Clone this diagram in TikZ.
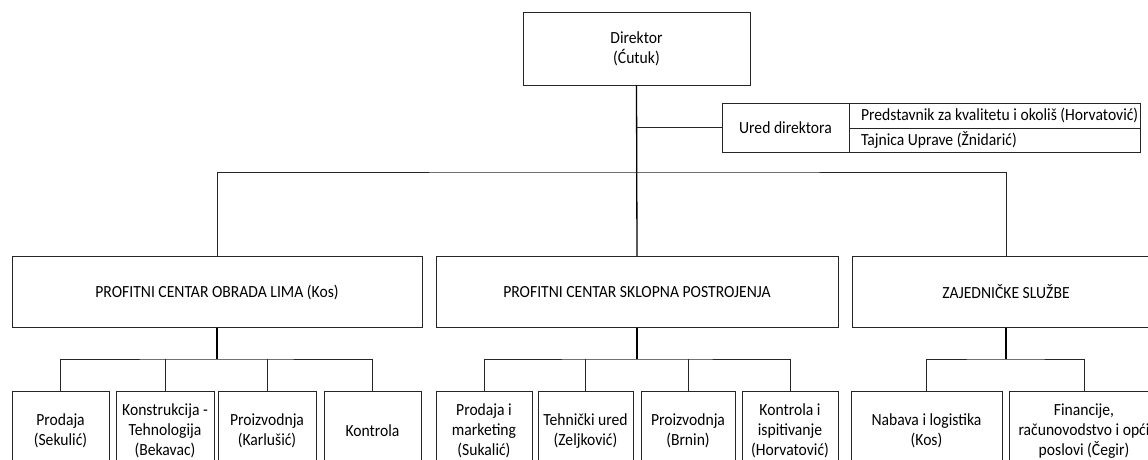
\documentclass[tikz,border=0pt]{standalone}
\usepackage{fontspec}
\setmainfont{Carlito}[FakeStretch=0.92]
\begin{document}
\begin{tikzpicture}[x=1pt,y=-1pt,
  box/.style={draw=black!85, line width=0.8pt, align=center, inner sep=0pt, font=\fontsize{17}{20}\selectfont},
  rowbox/.style={box, minimum width=291pt},
  conn/.style={draw=black!85, line width=0.8pt},
  trunk/.style={draw=black, line width=1.3pt}]
\useasboundingbox (0,0) rectangle (1148,459);
\fill[white] (0,0) rectangle (1148,459);
\clip (0,0) rectangle (1148,459);
% top
\node[box, minimum width=227pt, minimum height=73pt] (dir) at (636.5,48.5) {Direktor\\(Ćutuk)};
\node[box, minimum width=127pt, minimum height=49pt] (ured) at (785.5,127.5) {Ured direktora};
\node[rowbox, minimum height=25pt] (pred) at (994.5,115.5) {\makebox[291pt][l]{\hspace{12pt}Predstavnik za kvalitetu i okoliš (Horvatović)}};
\node[rowbox, minimum height=24pt] (taj) at (994.5,140) {\makebox[291pt][l]{\hspace{12pt}Tajnica Uprave (Žnidarić)}};
% level 1
\node[box, minimum width=410pt, minimum height=71pt] (pc1) at (217,292) {PROFITNI CENTAR OBRADA LIMA (Kos)};
\node[box, minimum width=402pt, minimum height=71pt] (pc2) at (637,292) {PROFITNI CENTAR SKLOPNA POSTROJENJA};
\node[box, minimum width=308pt, minimum height=71pt] (pc3) at (1006,292) {ZAJEDNIČKE SLUŽBE};
% level 2
\node[box, minimum width=97pt, minimum height=80pt] (a1) at (60.5,431) {Prodaja\\(Sekulić)};
\node[box, minimum width=98pt, minimum height=80pt] (a2) at (165,431) {Konstrukcija -\\Tehnologija\\(Bekavac)};
\node[box, minimum width=98pt, minimum height=80pt] (a3) at (267,431) {Proizvodnja\\(Karlušić)};
\node[box, minimum width=97pt, minimum height=80pt] (a4) at (372.5,431) {Kontrola};
\node[box, minimum width=96pt, minimum height=80pt] (b1) at (484,431) {Prodaja i\\marketing\\(Sukalić)};
\node[box, minimum width=95pt, minimum height=80pt] (b2) at (585.5,431) {Tehnički ured\\(Zeljković)};
\node[box, minimum width=94pt, minimum height=80pt] (b3) at (688,431) {Proizvodnja\\(Brnin)};
\node[box, minimum width=96pt, minimum height=80pt] (b4) at (790,431) {Kontrola i\\ispitivanje\\(Horvatović)};
\node[box, minimum width=151pt, minimum height=80pt] (c1) at (926.5,431) {Nabava i logistika\\(Kos)};
\node[box, minimum width=150pt, minimum height=80pt] (c2) at (1084,431) {Financije,\\računovodstvo i opći\\poslovi (Čegir)};
% connectors
\coordinate (h0) at (0,172);
\coordinate (h1) at (0,359);
\draw[trunk] (dir.south) -- (pc2.north);
\draw[conn] (ured.west) -- (ured.west -| dir.south);
\draw[conn] (pc1.north) |- (h0 -| dir.south) -| (pc3.north);
\draw[trunk] (pc1.south) -- (pc1.south |- h1);
\draw[conn] (a1.north) |- (h1 -| pc1.south) -| (a4.north);
\draw[conn] (a2.north) -- (a2.north |- h1);
\draw[conn] (a3.north) -- (a3.north |- h1);
\draw[trunk] (pc2.south) -- (pc2.south |- h1);
\draw[conn] (b1.north) |- (h1 -| pc2.south) -| (b4.north);
\draw[conn] (b2.north) -- (b2.north |- h1);
\draw[conn] (b3.north) -- (b3.north |- h1);
\draw[trunk] (pc3.south) -- (pc3.south |- h1);
\draw[conn] (c1.north) |- (h1 -| pc3.south) -| (c2.north);
\end{tikzpicture}
\end{document}
